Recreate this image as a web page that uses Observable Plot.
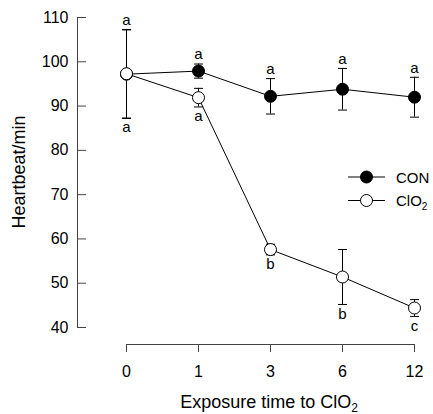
<!DOCTYPE html>
<html><head><meta charset="utf-8">
<script src="https://cdn.jsdelivr.net/npm/d3@7"></script>
<script src="https://cdn.jsdelivr.net/npm/@observablehq/plot@0.6"></script>
<style>body{margin:0;background:#fff;}</style>
</head><body><div id="chart"></div>
<script>
const times = [0, 1, 3, 6, 12];
const xTickLabels = ["0", "1", "3", "6", "12"];
const yTicks = [40, 50, 60, 70, 80, 90, 100, 110];
const seriesNames = ["CON", "ClO2"];
const conMean = [97.2, 97.9, 92.2, 93.8, 92.0];
const conSE = [10.0, 1.6, 4.0, 4.7, 4.5];
const conLetters = ["a", "a", "a", "a", "a"];
const cloMean = [97.3, 91.9, 57.6, 51.4, 44.4];
const cloSE = [10.0, 2.1, 1.2, 6.2, 1.9];
const cloLetters = ["a", "a", "b", "b", "c"];
const xTitle = "Exposure time to ClO";
const xTitleSub = "2";
const yTitle = "Heartbeat/min";

const con = times.map((t, i) => ({t, m: conMean[i], se: conSE[i], lab: conLetters[i]}));
const clo = times.map((t, i) => ({t, m: cloMean[i], se: cloSE[i], lab: cloLetters[i]}));

const font = "'Liberation Sans', Arial, sans-serif";
const axisColor = "#444";
const cap = {draw(ctx, size) { const r = Math.sqrt(size / Math.PI); ctx.moveTo(-r, 0); ctx.lineTo(r, 0); }};

function seriesMarks(data, fill, above) {
  return [
    Plot.line(data, {x: "t", y: "m", stroke: "#000", strokeWidth: 1}),
    Plot.ruleX(data, {x: "t", y1: d => d.m - d.se, y2: d => d.m + d.se, stroke: "#000", strokeWidth: 1}),
    Plot.dot(data, {x: "t", y: d => d.m + d.se, symbol: cap, r: 4.5, stroke: "#000", fill: "none", strokeWidth: 1}),
    Plot.dot(data, {x: "t", y: d => d.m - d.se, symbol: cap, r: 4.5, stroke: "#000", fill: "none", strokeWidth: 1}),
    Plot.dot(data, {x: "t", y: "m", r: 6, fill, stroke: "#000", strokeWidth: 1}),
    Plot.text(data, {x: "t", y: d => above ? d.m + d.se : d.m - d.se, text: "lab", lineAnchor: "middle",
      dy: above ? -9.5 : 9.5, fontSize: 15, fill: "#000"})
  ];
}

const plot = Plot.plot({
  width: 433, height: 414,
  marginLeft: 77, marginRight: 19, marginTop: 17, marginBottom: 87,
  style: {fontFamily: font, fontSize: "16px", color: "#000", background: "#fff", overflow: "visible"},
  x: {type: "point", domain: times, range: [125, 414], padding: 0},
  y: {domain: [40, 110]},
  marks: [
    Plot.frame({anchor: "left", stroke: axisColor}),
    Plot.axisY({ticks: yTicks, tickSize: -9, tickFormat: d => String(d), label: null, stroke: axisColor, fill: "#000", fontSize: 16}),
    Plot.axisX({dy: 17, tickSize: 8, tickPadding: 13, tickFormat: d => xTickLabels[times.indexOf(d)], label: null, stroke: axisColor, fill: "#000", fontSize: 16}),
    Plot.ruleY([40], {x1: times[0], x2: times[times.length - 1], dy: 17, stroke: axisColor}),
    ...seriesMarks(con, "#000", true),
    ...seriesMarks(clo, "#fff", false)
  ]
});
document.getElementById("chart").appendChild(plot);

const svg = d3.select(plot);
const g = svg.append("g").attr("font-family", font).attr("fill", "#000");
const xt = g.append("text").attr("x", 269).attr("y", 408).attr("text-anchor", "middle").attr("font-size", 18);
xt.append("tspan").text(xTitle);
xt.append("tspan").attr("font-size", 12).attr("dy", 4).text(xTitleSub);
g.append("text").attr("transform", "translate(25,172) rotate(-90)").attr("text-anchor", "middle").attr("font-size", 18).text(yTitle);

const legend = [
  {name: seriesNames[0], sub: "", fill: "#000"},
  {name: seriesNames[1].slice(0, -1), sub: seriesNames[1].slice(-1), fill: "#fff"}
];
legend.forEach((d, i) => {
  const y = 177 + i * 23.5;
  g.append("line").attr("x1", 348).attr("x2", 385).attr("y1", y).attr("y2", y).attr("stroke", "#000");
  g.append("circle").attr("cx", 366.5).attr("cy", y).attr("r", 6).attr("fill", d.fill).attr("stroke", "#000");
  const t = g.append("text").attr("x", 396).attr("y", y + 5.5).attr("font-size", 15).attr("text-anchor", "start");
  t.append("tspan").text(d.name);
  if (d.sub) t.append("tspan").attr("font-size", 10).attr("dy", 4).text(d.sub);
});
</script>
</body></html>
